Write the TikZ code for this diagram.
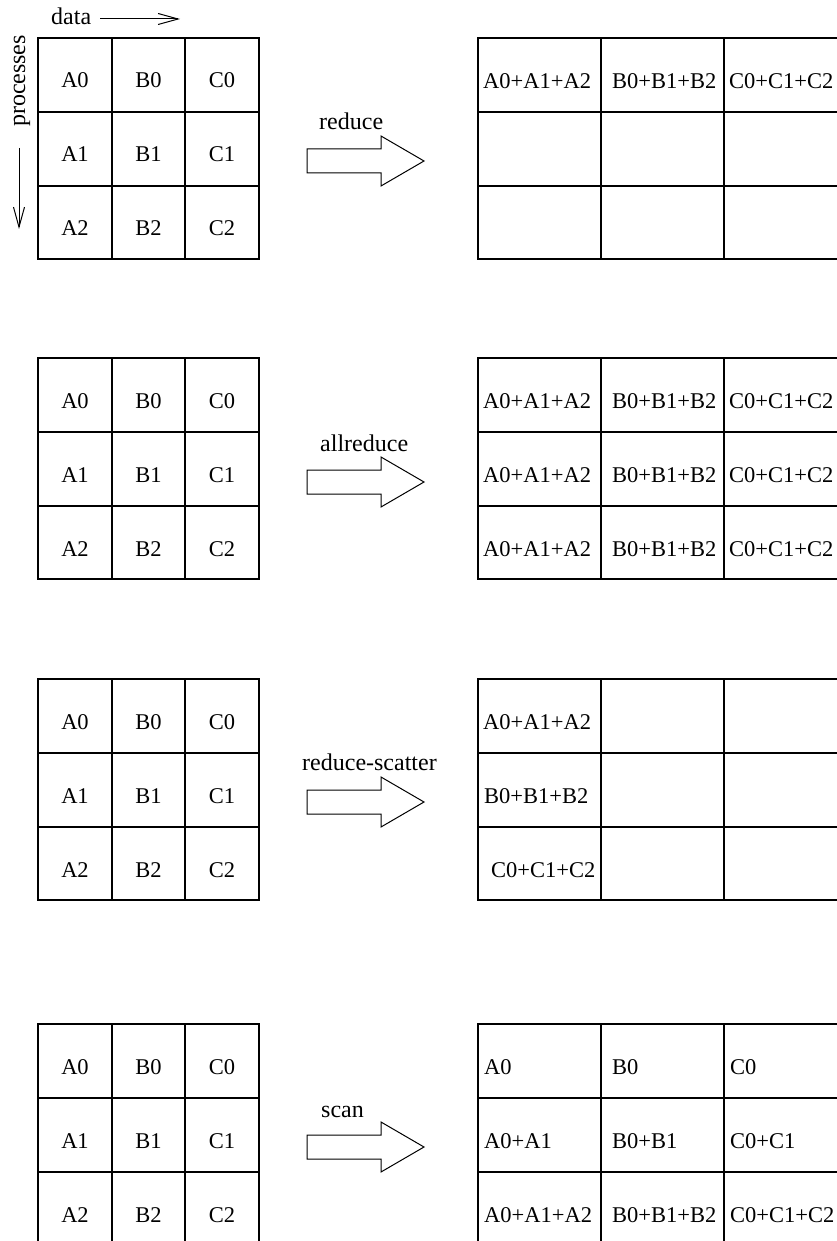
\documentclass[tikz,border=0pt]{standalone}
\usepackage{fontspec}
\setmainfont{Liberation Serif}
\usetikzlibrary{arrows.meta}
\begin{document}
\begin{tikzpicture}[x=1pt,y=-1pt,
  font=\fontsize{22.5}{26}\selectfont,
  gridline/.style={line width=1.2pt, line cap=rect},
  cell/.style={anchor=base, inner sep=0pt},
  lcell/.style={anchor=base west, inner sep=0pt},
  oplabel/.style={anchor=base west, inner sep=0pt, font=\fontsize{24}{28}\selectfont},
  blockarrow/.style={line width=1pt, line join=miter},
  axis/.style={line width=1pt, -{Straight Barb[length=20pt,width=11pt,line width=1pt]}}]
\useasboundingbox (0,0) rectangle (836,1241);

% ---------- grids ----------
\foreach \g/\t in {1/38,2/358,3/679,4/1024} {
  % left grid
  \draw[gridline] (38,\t) rectangle (259,\t+221);
  \draw[gridline] (112,\t) -- (112,\t+221) (185,\t) -- (185,\t+221);
  \draw[gridline] (38,\t+74) -- (259,\t+74) (38,\t+148) -- (259,\t+148);
  % right grid
  \draw[gridline] (847,\t) -- (478,\t) -- (478,\t+221) -- (847,\t+221);
  \draw[gridline] (601,\t) -- (601,\t+221) (724,\t) -- (724,\t+221);
  \draw[gridline] (478,\t+74) -- (847,\t+74) (478,\t+148) -- (847,\t+148);
  % left grid texts
  \foreach \L/\x in {A/75,B/148.5,C/222} {
    \foreach \r in {0,1,2} {
      \node[cell] (L\g\L\r) at (\x,\t+50+\r*74) {\L\r};
    }
  }
}

% ---------- right grid texts ----------
% reduce
\node[lcell] (R1A) at (483,89) {A0+A1+A2};
\node[lcell] (R1B) at (612,89) {B0+B1+B2};
\node[lcell] (R1C) at (729,89) {C0+C1+C2};
% allreduce
\foreach \r in {0,1,2} {
  \node[lcell] (R2A\r) at (483,408+\r*74) {A0+A1+A2};
  \node[lcell] (R2B\r) at (612,408+\r*74) {B0+B1+B2};
  \node[lcell] (R2C\r) at (729,408+\r*74) {C0+C1+C2};
}
% reduce-scatter
\node[lcell] (R3A) at (483,729) {A0+A1+A2};
\node[lcell] (R3B) at (484,803) {B0+B1+B2};
\node[lcell] (R3C) at (491,877) {C0+C1+C2};
% scan
\node[lcell] (R4A0) at (484,1074) {A0};
\node[lcell] (R4B0) at (612,1074) {B0};
\node[lcell] (R4C0) at (730,1074) {C0};
\node[lcell] (R4A1) at (484,1148) {A0+A1};
\node[lcell] (R4B1) at (612,1148) {B0+B1};
\node[lcell] (R4C1) at (730,1148) {C0+C1};
\node[lcell] (R4A2) at (484,1222) {A0+A1+A2};
\node[lcell] (R4B2) at (612,1222) {B0+B1+B2};
\node[lcell] (R4C2) at (730,1222) {C0+C1+C2};

% ---------- block arrows ----------
\foreach \c in {161,482,802,1147} {
  \draw[blockarrow] (307,\c-12) -- (381,\c-12) -- (381,\c-25) -- (424,\c)
     -- (381,\c+25) -- (381,\c+12) -- (307,\c+12) -- cycle;
}
\node[oplabel] (opreduce) at (319,130) {reduce};
\node[oplabel] (opallreduce) at (320,451) {allreduce};
\node[oplabel] (opredscat) at (302,770) {reduce-scatter};
\node[oplabel] (opscan) at (321,1117) {scan};

% ---------- axes ----------
\node[oplabel] (data) at (51,25) {data};
\coordinate (dataS) at (100,19);
\coordinate (dataE) at (180,19);
\draw[axis] (dataS) -- (dataE);
\node[anchor=base, rotate=90, inner sep=0pt, font=\fontsize{24}{28}\selectfont] (proc) at (25,81) {processes};
\coordinate (procS) at (19,148);
\coordinate (procE) at (19,229);
\draw[axis] (procS) -- (procE);
\end{tikzpicture}
\end{document}
